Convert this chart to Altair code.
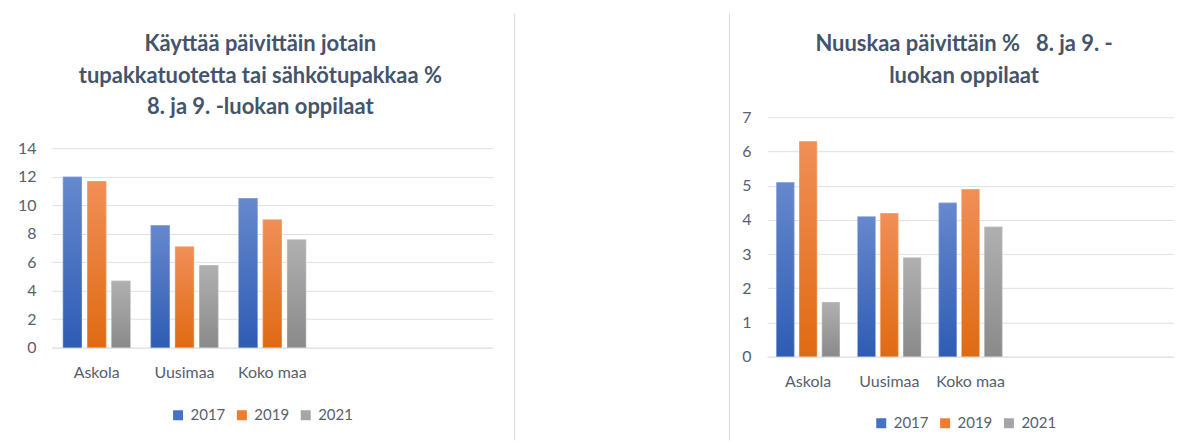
import altair as alt
import pandas as pd

categories = ["Askola", "Uusimaa", "Koko maa"]
empty_slots = [" ", "  "]
years = ["2017", "2019", "2021"]

left_title = ["Käyttää päivittäin jotain", "tupakkatuotetta tai sähkötupakkaa %", "8. ja 9. -luokan oppilaat"]
left_2017 = [12.0, 8.6, 10.5]
left_2019 = [11.7, 7.1, 9.0]
left_2021 = [4.7, 5.8, 7.6]

right_title = ["Nuuskaa päivittäin %\u00a0\u00a0\u00a08. ja 9. -", "luokan oppilaat"]
right_2017 = [5.1, 4.1, 4.5]
right_2019 = [6.3, 4.2, 4.9]
right_2021 = [1.6, 2.9, 3.8]

solid = ["#4472C4", "#ED7D31", "#A5A5A5"]
grad_top = ["#6688CD", "#F08F58", "#B0B0B0"]
grad_bot = ["#2E5CB4", "#E06A12", "#8A8A8A"]

FONT = "Lato"
TXT = "#56606E"
TITLE = "#44546A"
GRID = "#DDE1E6"


def frame(cats, series):
    rows = []
    for y, vals in zip(years, series):
        for c, v in zip(cats, vals):
            rows.append({"category": c, "year": y, "value": v})
    return pd.DataFrame(rows)


def panel(df, title_lines, ymax, ystep, w, h, ytop, pad_inner, pad_outer, title_x, title_y,
          leg_x, leg_y, div_x, div_y1, div_y2, extra_left=None):
    domain = categories + empty_slots
    enc = dict(
        x=alt.X("category:N", sort=domain,
                scale=alt.Scale(domain=domain, paddingInner=pad_inner, paddingOuter=pad_outer),
                axis=alt.Axis(title=None, labelAngle=0, ticks=False, domain=True,
                              domainColor=GRID, labelPadding=17, labelFontSize=16,
                              labelColor=TXT, labelFont=FONT, grid=False)),
        xOffset=alt.XOffset("year:N", scale=alt.Scale(domain=years, paddingInner=0.21, paddingOuter=0)),
        y=alt.Y("value:Q", scale=alt.Scale(domain=[0, ymax], nice=False, range=[h, ytop]),
                axis=alt.Axis(title=None, values=list(range(0, ymax + 1, ystep)),
                              grid=True, gridColor=GRID, domain=False, ticks=False,
                              labelPadding=16, labelFontSize=16, labelColor=TXT, labelFont=FONT)),
    )
    base = alt.Chart(df).mark_bar().encode(
        color=alt.Color("year:N", scale=alt.Scale(domain=years, range=solid),
                        legend=alt.Legend(title=None, orient="none", legendX=leg_x, legendY=leg_y,
                                          direction="horizontal", symbolType="square",
                                          symbolSize=100, symbolStrokeWidth=0,
                                          labelFontSize=15, labelColor=TXT, labelFont=FONT,
                                          labelOffset=5, columnPadding=9, padding=0)),
        **enc,
    )
    layers = [base]
    for i, yr in enumerate(years):
        g = {"gradient": "linear", "x1": 0, "x2": 0, "y1": 0, "y2": 1,
             "stops": [{"offset": 0, "color": grad_top[i]}, {"offset": 1, "color": grad_bot[i]}]}
        layers.append(
            alt.Chart(df).transform_filter(alt.datum.year == yr)
            .mark_bar(color=g, stroke="#FFFFFF", strokeOpacity=0.35, strokeWidth=1)
            .encode(**enc)
        )
    one = pd.DataFrame({"k": [0]})
    layers.append(
        alt.Chart(one).mark_text(font=FONT, fontSize=22, fontWeight="bold", color=TITLE,
                                 align="center", baseline="middle", lineHeight=31.5)
        .encode(x=alt.value(title_x), y=alt.value(title_y), text=alt.value(title_lines))
    )
    layers.append(
        alt.Chart(one).mark_rule(color="#D9D9D9", strokeWidth=1)
        .encode(x=alt.value(div_x), y=alt.value(div_y1), y2=alt.value(div_y2))
    )
    if extra_left is not None:
        layers.append(
            alt.Chart(one).mark_rule(color="#FFFFFF", strokeWidth=1)
            .encode(x=alt.value(extra_left), y=alt.value(div_y1), y2=alt.value(div_y1 + 10))
        )
    return alt.layer(*layers).properties(width=w, height=h)


# both plot origins sit at page y = 116
left = panel(frame(categories, [left_2017, left_2019, left_2021]), left_title, 14, 2, 442, 231, 31,
             0.23, 0.125, 209, -73, 119, 291, 464, -104, 324, extra_left=-43)
right = panel(frame(categories, [right_2017, right_2019, right_2021]), right_title, 7, 1, 408, 240, 0,
              0.217, 0.114, 197.5, -73, 107, 299, -37.7, -104, 324)

chart = alt.hconcat(left, right, spacing=213).resolve_scale(
    color="independent", y="independent", x="independent", xOffset="independent"
).resolve_legend(color="independent").properties(
    padding={"left": 0, "top": 4, "right": 0, "bottom": 0}
).configure_view(stroke=None)

chart.save("out.html", embed_options={"renderer": "svg", "actions": False})
